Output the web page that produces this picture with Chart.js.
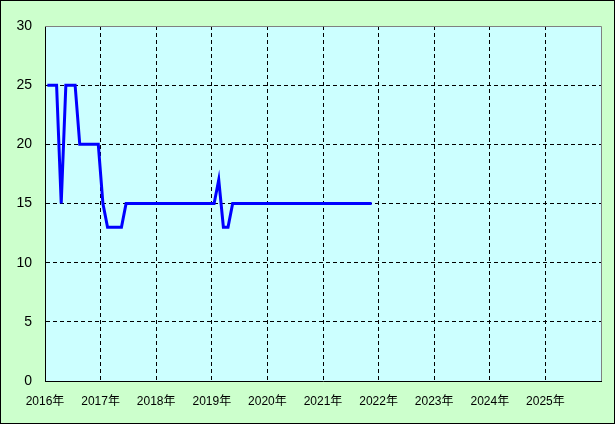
<!DOCTYPE html>
<html>
<head>
<meta charset="utf-8">
<script src="https://cdn.jsdelivr.net/npm/chart.js@4/dist/chart.umd.min.js"></script>
<style>
html,body{margin:0;padding:0;background:#ccffcc;}
#wrap{width:615px;height:424px;position:relative;}
</style>
</head>
<body>
<div id="wrap"><canvas id="c" width="615" height="424"></canvas></div>
<script>
// Monthly series starting January 2016
const startYear = 2016;
const values = [
  25,25,25,15,25,25,25,20,20,20,20,20,   // 2016
  15,13,13,13,13,15,15,15,15,15,15,15,   // 2017
  15,15,15,15,15,15,15,15,15,15,15,15,   // 2018
  15,17,13,13,15,15,15,15,15,15,15,15,   // 2019
  15,15,15,15,15,15,15,15,15,15,15,15,   // 2020
  15,15,15,15,15,15,15,15,15,15,15       // 2021 (to Nov)
];
const yearTicks = [2016,2017,2018,2019,2020,2021,2022,2023,2024,2025,2026];
const yTicks = [0,5,10,15,20,25,30];

const points = values.map((v,i)=>({x: startYear + (i + 0.5)/12, y: v}));

const bgPlugin = {
  id:'bg',
  beforeDraw(chart){
    const {ctx, chartArea:a} = chart;
    ctx.save();
    ctx.fillStyle = '#ccffcc';
    ctx.fillRect(0,0,chart.width,chart.height);
    ctx.fillStyle = '#ccffff';
    ctx.fillRect(a.left,a.top,a.right-a.left,a.bottom-a.top);
    ctx.restore();
  },
  afterDraw(chart){
    const {ctx, chartArea:a} = chart;
    ctx.save();
    ctx.strokeStyle = '#808080';
    ctx.lineWidth = 1;
    ctx.beginPath();
    ctx.moveTo(a.left, a.top+0.5);
    ctx.lineTo(Math.round(a.right)+0.5, a.top+0.5);
    ctx.lineTo(Math.round(a.right)+0.5, a.bottom);
    ctx.stroke();
    ctx.strokeStyle = '#000';
    ctx.strokeRect(0.5,0.5,chart.width-1,chart.height-1);
    ctx.restore();
  }
};

new Chart(document.getElementById('c'), {
  type:'line',
  data:{datasets:[{
    data: points,
    borderColor:'#0000ff',
    borderWidth:3,
    pointRadius:0,
    tension:0,
    fill:false
  }]},
  options:{
    responsive:false,
    animation:false,
    plugins:{legend:{display:false},tooltip:{enabled:false}},
    layout:{padding:{top:26,right:14,left:0,bottom:0}},
    scales:{
      x:{
        type:'linear',
        min:2016,max:2026,
        afterBuildTicks(s){ s.ticks = yearTicks.map(v=>({value:v})); },
        afterFit(s){ s.height = 43; },
        grid:{
          drawTicks:false,
          color: c => (c.tick && c.tick.value === 2026) ? 'rgba(0,0,0,0)' : '#000',
          lineWidth:1
        },
        border:{display:true,color:'#000',width:1,dash:[4,3]},
        ticks:{
          padding:13,
          color:'#000',
          maxRotation:0,
          autoSkip:false,
          font:{family:"'Liberation Sans','Noto Sans CJK JP'",size:12},
          callback: v => v === 2026 ? '' : v + '年'
        }
      },
      y:{
        min:0,max:30,
        afterBuildTicks(s){ s.ticks = yTicks.map(v=>({value:v})); },
        afterFit(s){ s.width = 45; },
        grid:{
          drawTicks:false,
          color: c => (c.tick && c.tick.value === 30) ? 'rgba(0,0,0,0)' : '#000',
          lineWidth:1
        },
        border:{display:true,color:'#000',width:1,dash:[4,3]},
        ticks:{
          padding:13,
          color:'#000',
          font:{family:"'Liberation Sans','Noto Sans CJK JP'",size:14}
        }
      }
    }
  },
  plugins:[bgPlugin]
});
</script>
</body>
</html>
